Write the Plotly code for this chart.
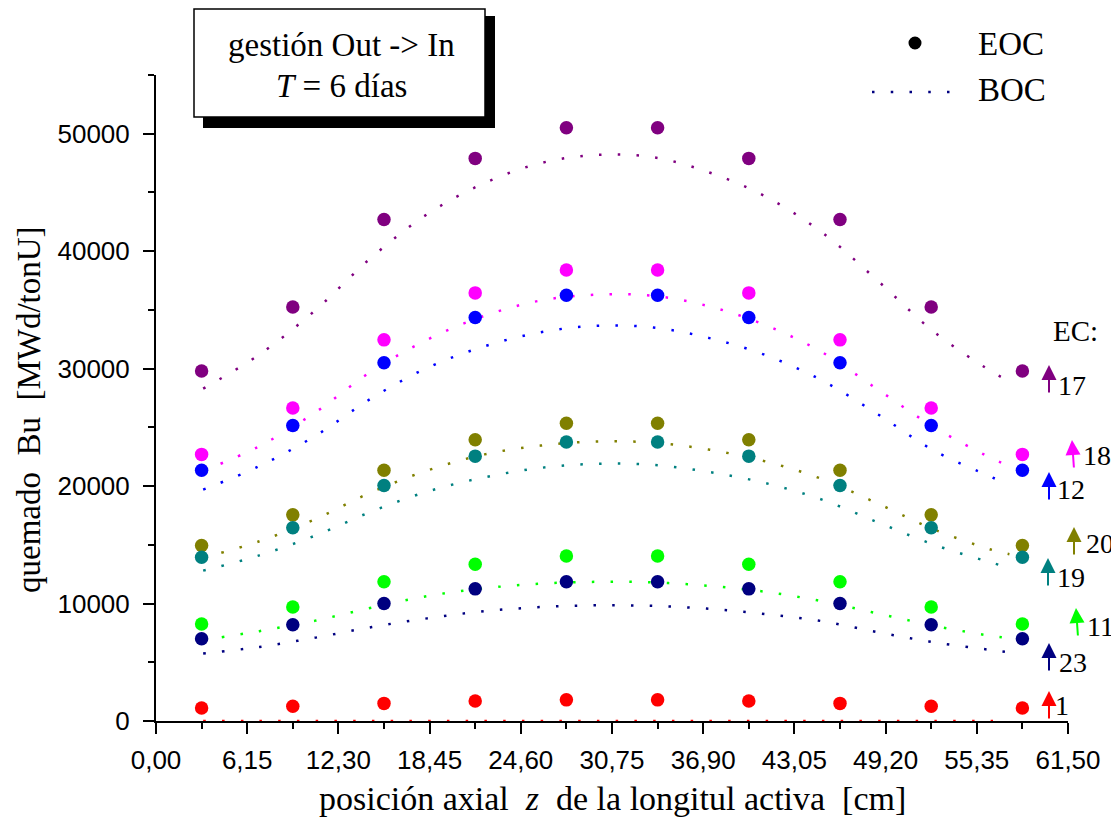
import plotly.graph_objects as go

# ---------------- data ----------------
Z_EOC = [3.075, 9.225, 15.375, 21.525, 27.675, 33.825, 39.975, 46.125, 52.275, 58.425]
Z_BOC = [3.18, 6.97, 10.77, 14.56, 18.35, 22.15, 25.94, 29.73, 33.53, 37.32,
         41.11, 44.91, 48.70, 52.49, 56.29, 57.55]

EC_LABELS = ["17", "18", "12", "20", "19", "11", "23", "1"]
EC_COLORS = ["#800080", "#FF00FF", "#0000FF", "#808000", "#008080", "#00FF00", "#000080", "#FF0000"]

EOC_17 = [29800, 35250, 42700, 47900, 50500, 50500, 47900, 42700, 35250, 29800]
EOC_18 = [22700, 26650, 32450, 36450, 38400, 38400, 36450, 32450, 26650, 22700]
EOC_12 = [21350, 25150, 30500, 34350, 36250, 36250, 34350, 30500, 25150, 21350]
EOC_20 = [14950, 17550, 21350, 23950, 25350, 25350, 23950, 21350, 17550, 14950]
EOC_19 = [13950, 16450, 20050, 22550, 23750, 23750, 22550, 20050, 16450, 13950]
EOC_11 = [8250, 9700, 11850, 13350, 14050, 14050, 13350, 11850, 9700, 8250]
EOC_23 = [7000, 8200, 10000, 11250, 11850, 11850, 11250, 10000, 8200, 7000]
EOC_1 = [1100, 1250, 1500, 1700, 1800, 1800, 1700, 1500, 1250, 1100]

BOC_17 = [28300, 31200, 35000, 39500, 43200, 45800, 47500, 48200, 48000, 46700,
          44650, 41600, 37450, 33100, 29800, 28900]
BOC_18 = [21300, 23400, 26300, 29800, 32500, 34500, 35800, 36300, 36200, 35300,
          33700, 31400, 28200, 25000, 22400, 21700]
BOC_12 = [19700, 21700, 24300, 27500, 30100, 31900, 33100, 33650, 33500, 32600,
          31150, 29000, 26100, 23000, 20800, 20100]
BOC_20 = [13900, 15300, 17200, 19500, 21350, 22700, 23450, 23800, 23700, 23100,
          22100, 20600, 18500, 16300, 14600, 14200]
BOC_19 = [12800, 14100, 15800, 17850, 19550, 20750, 21550, 21900, 21800, 21200,
          20250, 18850, 16900, 15000, 13500, 13050]
BOC_11 = [6900, 7650, 8550, 9650, 10650, 11300, 11700, 11850, 11800, 11500,
          11000, 10200, 9150, 8100, 7250, 7050]
BOC_23 = [5750, 6300, 7100, 8000, 8750, 9350, 9700, 9850, 9800, 9550,
          9100, 8500, 7550, 6700, 6050, 5850]
BOC_1 = [0, 0, 0, 0, 0, 0, 0, 0, 0, 0, 0, 0, 0, 0, 0, 0]

EOC_ALL = [EOC_17, EOC_18, EOC_12, EOC_20, EOC_19, EOC_11, EOC_23, EOC_1]
BOC_ALL = [BOC_17, BOC_18, BOC_12, BOC_20, BOC_19, BOC_11, BOC_23, BOC_1]

X_TICKS = [0, 6.15, 12.30, 18.45, 24.60, 30.75, 36.90, 43.05, 49.20, 55.35, 61.50]
X_TICKTEXT = ["0,00", "6,15", "12,30", "18,45", "24,60", "30,75", "36,90",
              "43,05", "49,20", "55,35", "61,50"]
Y_TICKS = [0, 10000, 20000, 30000, 40000, 50000]
Y_TICKTEXT = ["0", "10000", "20000", "30000", "40000", "50000"]

# ---------------- layout geometry ----------------
# the page has an 8px body margin; figure pixel = page pixel - 8
OFF = 8
W, H = 1119 - OFF, 818 - OFF
# plot area in page pixels: x 156..1068, y 75..721
PL, PR, PT, PB = 156, 1068, 75, 721
ML, MR, MT, MB = PL - OFF, W - (PR - OFF), PT - OFF, H - (PB - OFF)
PW = PR - PL
PH = PB - PT


def px(x):
    """page pixel x -> paper coordinate"""
    return (x - PL) / PW


def py(y):
    """page pixel y -> paper coordinate"""
    return (PB - y) / PH


SERIF = "Liberation Serif"
SANS = "Liberation Sans"
DOT = "2.5px,16.25px"

fig = go.Figure()

for lab, col, boc in zip(EC_LABELS, EC_COLORS, BOC_ALL):
    fig.add_trace(go.Scatter(
        x=Z_BOC, y=boc, mode="lines", name="BOC " + lab,
        line=dict(color=col, width=2.5, dash=DOT, shape="spline"),
        showlegend=False, hoverinfo="skip"))

for lab, col, eoc in zip(EC_LABELS, EC_COLORS, EOC_ALL):
    fig.add_trace(go.Scatter(
        x=Z_EOC, y=eoc, mode="markers", name="EOC " + lab,
        marker=dict(color=col, size=13.5, line=dict(width=0)),
        showlegend=False, cliponaxis=False))

axis_common = dict(
    showline=True, linecolor="black", linewidth=2, mirror=False,
    ticks="outside", tickcolor="black", tickwidth=2, ticklen=11,
    showgrid=False, zeroline=False, automargin=False,
    tickfont=dict(family=SANS, size=26, color="black"),
)

fig.update_xaxes(
    range=[0, 61.5], tickmode="array", tickvals=X_TICKS, ticktext=X_TICKTEXT,
    minor=dict(tick0=3.075, dtick=6.15, ticks="outside", ticklen=6,
               tickwidth=2, tickcolor="black"),
    layer="below traces", ticklabelstandoff=4,
    **axis_common)
fig.update_yaxes(
    range=[0, 55000], tickmode="array", tickvals=Y_TICKS, ticktext=Y_TICKTEXT,
    minor=dict(tick0=5000, dtick=10000, ticks="outside", ticklen=6,
               tickwidth=2, tickcolor="black"),
    ticklabelstandoff=8,
    **axis_common)

shapes = []
annotations = []


def text_ann(x, y, text, size=28, xanchor="center", angle=0):
    return dict(xref="paper", yref="paper", x=px(x), y=py(y), text=text,
                showarrow=False, xanchor=xanchor, yanchor="middle",
                textangle=angle, font=dict(family=SERIF, size=size, color="black"))


# info box with shadow
shapes.append(dict(type="rect", xref="paper", yref="paper",
                   x0=px(203), x1=px(495), y0=py(128), y1=py(16),
                   fillcolor="black", line=dict(width=0), layer="above"))
shapes.append(dict(type="rect", xref="paper", yref="paper",
                   x0=px(194), x1=px(485), y0=py(117), y1=py(9),
                   fillcolor="white", line=dict(color="black", width=1.5), layer="above"))
annotations.append(text_ann(341, 45, "gestión Out -&gt; In", size=33))
annotations.append(text_ann(341, 86, "<i>T</i> = 6 días", size=33))

# legend (drawn by hand)
shapes.append(dict(type="circle", xref="paper", yref="paper",
                   xsizemode="pixel", ysizemode="pixel",
                   xanchor=px(915), yanchor=py(43),
                   x0=-6.5, x1=6.5, y0=-6.5, y1=6.5,
                   fillcolor="black", line=dict(width=0)))
shapes.append(dict(type="line", xref="paper", yref="paper",
                   x0=px(872), x1=px(952), y0=py(92), y1=py(92),
                   line=dict(color="#000080", width=2.5, dash=DOT)))
annotations.append(text_ann(976, 44, "EOC", size=33, xanchor="left"))
annotations.append(text_ann(976, 90, "BOC", size=33, xanchor="left"))

# EC labels with arrows
annotations.append(text_ann(1075, 331, "EC:", size=29))
ARROW_TIPS = [(1049, 365, 0), (1072, 440, 2), (1049, 472, 0), (1074, 527, 0),
              (1048, 558, 0), (1076, 608, 2), (1049, 643, 0), (1049, 691, 0)]
LABEL_POS = [(1056, 385), (1081, 455), (1055, 489), (1084, 543),
             (1055, 577), (1085, 626), (1057, 662), (1053, 705)]
for lab, col, (tx, ty, dx), (lx, ly) in zip(EC_LABELS, EC_COLORS, ARROW_TIPS, LABEL_POS):
    annotations.append(dict(xref="paper", yref="paper", x=px(tx), y=py(ty),
                            ax=dx, ay=29, text="", showarrow=True,
                            arrowhead=2, arrowsize=1.5, arrowwidth=2,
                            arrowcolor=col, standoff=0))
    annotations.append(text_ann(lx, ly, lab, size=28, xanchor="left"))

# axis titles
annotations.append(text_ann(612, 798,
                            "posición axial&nbsp; <i>z</i>&nbsp; de la longitul activa&nbsp; [cm]",
                            size=34))
annotations.append(text_ann(29, 410, "quemado&nbsp; Bu&nbsp; [MWd/tonU]", size=33, angle=-90))

fig.update_layout(
    width=W, height=H,
    margin=dict(l=ML, r=MR, t=MT, b=MB, autoexpand=False),
    paper_bgcolor="white", plot_bgcolor="white",
    showlegend=False,
    shapes=shapes, annotations=annotations,
)

fig.write_html("out.html")
